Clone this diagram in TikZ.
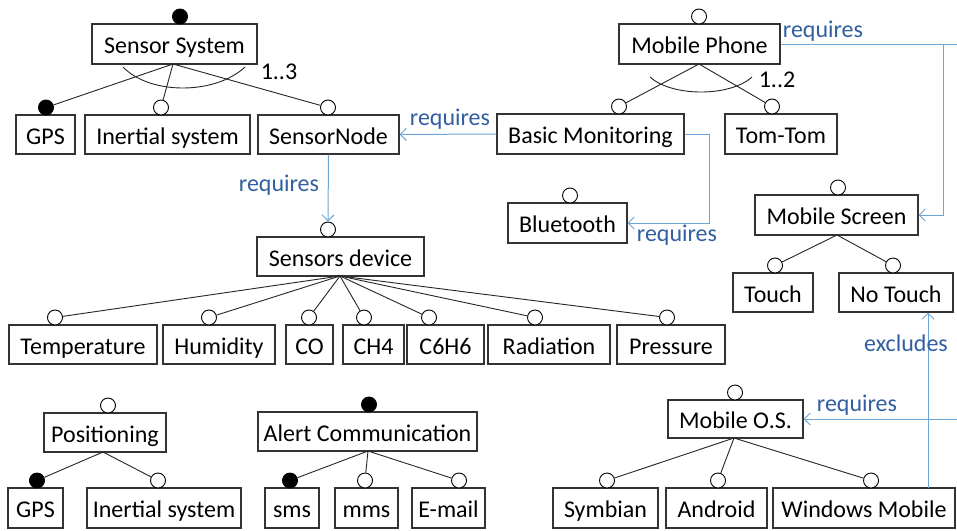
\documentclass[tikz,border=0pt]{standalone}
\usepackage{fontspec}
\setmainfont{Carlito}
\usetikzlibrary{arrows.meta}
\definecolor{reqline}{RGB}{110,165,215}
\definecolor{reqtext}{RGB}{50,95,160}
\tikzset{
  feat/.style={draw=black!80, line width=1.1pt, inner sep=0pt, fill=white,
    text height=22pt, text depth=2.5pt,
    font=\fontsize{24}{28}\selectfont},
  opt/.style={circle, draw=black, line width=0.9pt, fill=white,
    minimum size=15pt, inner sep=0pt},
  mand/.style={opt, fill=black},
  tree/.style={line width=0.9pt, draw=black!85},
  req/.style={draw=reqline, line width=1pt,
    -{Straight Barb[length=6pt,width=12pt]}},
  reqwire/.style={draw=reqline, line width=1pt},
  reqlab/.style={text=reqtext, inner sep=0pt, font=\fontsize{24}{28}\selectfont},
  card/.style={inner sep=0pt, font=\fontsize{24}{28}\selectfont},
}
\begin{document}
\begin{tikzpicture}[x=1pt,y=-1pt]
\useasboundingbox[fill=white] (0,0) rectangle (957,530);

% ---------- Sensor System ----------
\node[feat, minimum width=165pt, minimum height=40pt] (ss) at (174.5,44) {Sensor System};
\node[feat, minimum width=59pt, minimum height=39pt] (gps1) at (45.5,134.5) {GPS};
\node[feat, minimum width=165pt, minimum height=39pt] (ins1) at (167.5,134.5) {Inertial system};
\node[feat, minimum width=141pt, minimum height=39pt] (sn) at (328.5,134.5) {SensorNode};
\node[mand] (c-ss) at (180,16.5) {};
\node[mand] (c-gps1) at (46,107.5) {};
\node[opt] (c-ins1) at (161,107.5) {};
\node[opt] (c-sn) at (328,107.5) {};
\coordinate (ssf) at (173,64);
\draw[tree] (ssf) -- (c-gps1);
\draw[tree] (ssf) -- (c-ins1);
\draw[tree] (ssf) -- (c-sn);
\draw[tree] (123,67) .. controls (150,95) and (215,95) .. (245,67);
\node[card] (card-ss) at (279,72) {1..3};

% ---------- Mobile Phone ----------
\node[feat, minimum width=161pt, minimum height=40pt] (mp) at (699.5,44) {Mobile Phone};
\node[feat, minimum width=187pt, minimum height=40pt] (bm) at (590.5,134) {Basic Monitoring};
\node[feat, minimum width=112pt, minimum height=40pt] (tt) at (781,134) {Tom-Tom};
\node[opt] (c-mp) at (699,16.5) {};
\node[opt] (c-bm) at (619,106.5) {};
\node[opt] (c-tt) at (772,106.5) {};
\coordinate (mpf) at (699,64);
\draw[tree] (mpf) -- (c-bm);
\draw[tree] (mpf) -- (c-tt);
\draw[tree] (650,77) .. controls (672,97) and (730,97) .. (752,77);
\node[card] (card-mp) at (777,80) {1..2};

% ---------- Bluetooth ----------
\node[feat, minimum width=119pt, minimum height=40pt] (bt) at (567.5,223) {Bluetooth};
\node[opt] (c-bt) at (570,195.5) {};

% ---------- Mobile Screen ----------
\node[feat, minimum width=163pt, minimum height=40pt] (ms) at (836.5,215) {Mobile Screen};
\node[feat, minimum width=80pt, minimum height=39pt] (touch) at (773,292.5) {Touch};
\node[feat, minimum width=114pt, minimum height=39pt] (nt) at (896,292.5) {No Touch};
\node[opt] (c-ms) at (838,187.5) {};
\node[opt] (c-touch) at (775,265.5) {};
\node[opt] (c-nt) at (893,265.5) {};
\coordinate (msf) at (837,235);
\draw[tree] (msf) -- (c-touch);
\draw[tree] (msf) -- (c-nt);

% ---------- Sensors device ----------
\node[feat, minimum width=167pt, minimum height=39pt] (sd) at (340.5,256.5) {Sensors device};
\node[opt] (c-sd) at (328,229.5) {};
\node[feat, minimum width=148pt, minimum height=39pt] (temp) at (83,344.5) {Temperature};
\node[feat, minimum width=112pt, minimum height=39pt] (hum) at (219,344.5) {Humidity};
\node[feat, minimum width=47pt, minimum height=39pt] (co) at (309.5,344.5) {CO};
\node[feat, minimum width=61pt, minimum height=39pt] (ch4) at (373.5,344.5) {CH4};
\node[feat, minimum width=77pt, minimum height=39pt] (c6h6) at (445.5,344.5) {C6H6};
\node[feat, minimum width=122pt, minimum height=39pt] (rad) at (549,344.5) {Radiation};
\node[feat, minimum width=108pt, minimum height=39pt] (pres) at (671,344.5) {Pressure};
\node[opt] (c-temp) at (55,317.5) {};
\node[opt] (c-hum) at (209,317.5) {};
\node[opt] (c-co) at (309,317.5) {};
\node[opt] (c-ch4) at (364,317.5) {};
\node[opt] (c-c6h6) at (429,317.5) {};
\node[opt] (c-rad) at (535,317.5) {};
\node[opt] (c-pres) at (667,317.5) {};
\coordinate (sdf) at (340,276);
\foreach \c in {temp,hum,co,ch4,c6h6,rad,pres}
  \draw[tree] (sdf) -- (c-\c);

% ---------- Positioning ----------
\node[feat, minimum width=122pt, minimum height=39pt] (pos) at (105,432.5) {Positioning};
\node[feat, minimum width=55pt, minimum height=40pt] (gps2) at (35.5,508) {GPS};
\node[feat, minimum width=154pt, minimum height=40pt] (ins2) at (164,508) {Inertial system};
\node[opt] (c-pos) at (108,405.5) {};
\node[mand] (c-gps2) at (37,480.5) {};
\node[opt] (c-ins2) at (158,480.5) {};
\coordinate (posf) at (103,452);
\draw[tree] (posf) -- (c-gps2);
\draw[tree] (posf) -- (c-ins2);

% ---------- Alert Communication ----------
\node[feat, minimum width=219pt, minimum height=39pt] (alert) at (367.5,431.5) {Alert Communication};
\node[feat, minimum width=54pt, minimum height=40pt] (sms) at (292,508) {sms};
\node[feat, minimum width=63pt, minimum height=40pt] (mms) at (366.5,508) {mms};
\node[feat, minimum width=73pt, minimum height=40pt] (email) at (448.5,508) {E-mail};
\node[mand] (c-alert) at (369,404.5) {};
\node[mand] (c-sms) at (290,480.5) {};
\node[opt] (c-mms) at (365,480.5) {};
\node[opt] (c-email) at (459,480.5) {};
\coordinate (alf) at (368,451);
\draw[tree] (alf) -- (c-sms);
\draw[tree] (alf) -- (c-mms);
\draw[tree] (alf) -- (c-email);

% ---------- Mobile O.S. ----------
\node[feat, minimum width=135pt, minimum height=38pt] (mos) at (735.5,419) {Mobile O.S.};
\node[feat, minimum width=105pt, minimum height=40pt] (sym) at (605.5,508) {Symbian};
\node[feat, minimum width=101pt, minimum height=40pt] (andr) at (716.5,508) {Android};
\node[feat, minimum width=182pt, minimum height=40pt] (wm) at (864,508) {Windows Mobile};
\node[opt] (c-mos) at (735,392.5) {};
\node[opt] (c-sym) at (607,480.5) {};
\node[opt] (c-andr) at (718,480.5) {};
\node[opt] (c-wm) at (871,480.5) {};
\coordinate (mosf) at (734,438);
\draw[tree] (mosf) -- (c-sym);
\draw[tree] (mosf) -- (c-andr);
\draw[tree] (mosf) -- (c-wm);

% ---------- cross-tree constraints ----------
\draw[req] (bm.west) -- (sn.east);
\node[reqlab] (l-bmsn) at (450,119) {requires};

\draw[req] (sn.south) -- (c-sd.north);
\node[reqlab] (l-snsd) at (279,185) {requires};

\coordinate (bmturn) at (709,134);
\draw[req] (bm.east) -- (bmturn) |- (bt.east);
\node[reqlab] (l-bmbt) at (677,235) {requires};

\coordinate (mpend) at (957,44);
\coordinate (mpturn) at (943,44);
\draw[reqwire] (mp.east) -- (mpend);
\draw[req] (mpturn) |- (ms.east);
\node[reqlab] (l-mpms) at (823,31) {requires};

\coordinate (mosend) at (957,419);
\draw[req] (mosend) -- (mos.east);
\node[reqlab] (l-mos) at (857,405) {requires};

\coordinate (exbase) at (928,488);
\draw[req] (exbase) -- (exbase |- nt.south);
\node[reqlab] (l-ex) at (906,343) {excludes};
\end{tikzpicture}
\end{document}
